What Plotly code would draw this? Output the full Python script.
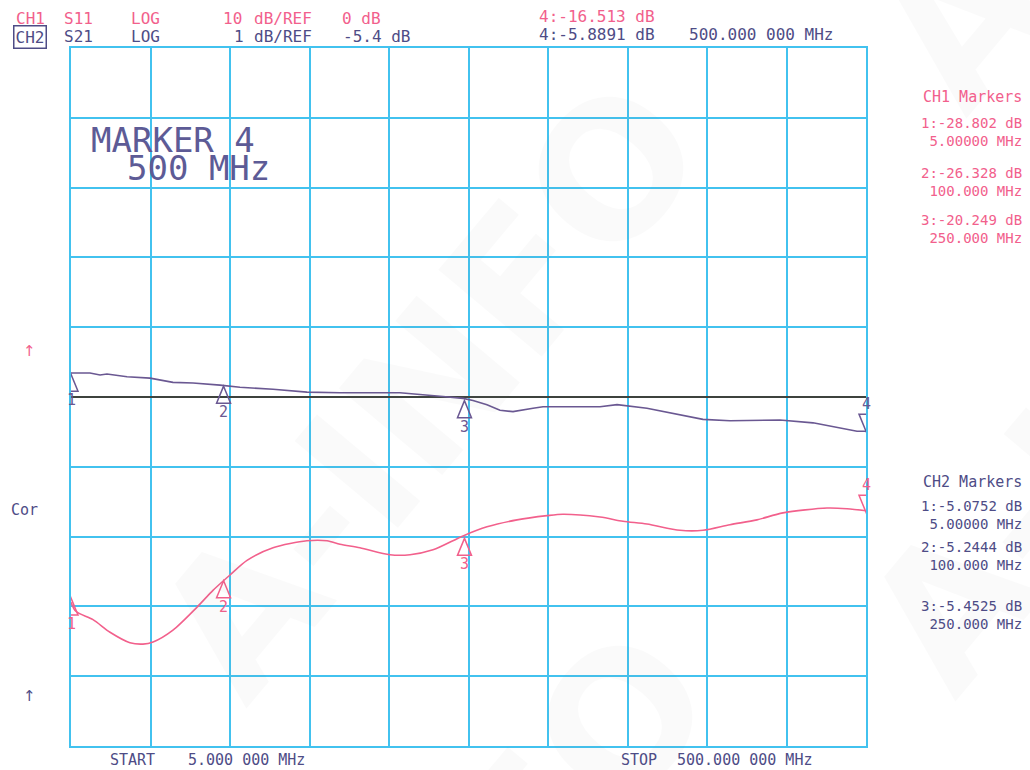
import plotly.graph_objects as go

# ---------------- data ----------------
# CH1  S11  (10 dB/div, ref 0 dB)
freq_s11 = [5.0, 8.0, 18.7, 29.3, 41.7, 49.8, 56.1, 68.5, 83.5, 93.4, 104.0, 114.6,
            130.8, 151.9, 164.4, 172.5, 184.9, 203.6, 216.1, 230.4, 249.1, 264.0,
            282.7, 301.4, 311.3, 334.4, 348.7, 363.6, 384.2, 398.5, 415.3, 432.1,
            448.3, 475.7, 488.2, 500.0]
s11_db = [-29.4, -30.7, -31.9, -33.7, -35.2, -35.4, -35.1, -33.4, -30.1, -27.7, -25.5,
          -23.4, -21.6, -20.6, -20.6, -21.1, -21.6, -22.6, -22.6, -21.9, -19.9, -18.6,
          -17.6, -17.0, -16.8, -17.2, -17.8, -18.2, -19.1, -19.1, -18.3, -17.6,
          -16.6, -15.9, -16.0, -16.3]

# CH2  S21  (1 dB/div, ref -5.4 dB)
freq_s21 = [5.0, 16.8, 23.1, 27.4, 39.9, 54.2, 68.5, 81.0, 97.8, 110.2, 130.8, 151.9,
            172.5, 197.4, 209.8, 234.8, 249.1, 255.3, 264.0, 272.1, 280.2, 292.7,
            298.9, 334.4, 345.0, 363.6, 379.8, 398.5, 415.3, 434.0, 446.4, 467.0,
            483.8, 494.4, 500.0]
s21_db = [-5.056, -5.056, -5.085, -5.07, -5.11, -5.13, -5.19, -5.20, -5.23, -5.26,
          -5.29, -5.33, -5.34, -5.34, -5.34, -5.39, -5.42, -5.45, -5.51, -5.59, -5.61,
          -5.56, -5.54, -5.54, -5.51, -5.56, -5.63, -5.72, -5.74, -5.74, -5.73,
          -5.77, -5.84, -5.89, -5.89]

ref_freq = [5.0, 500.0]
ref_s21 = [-5.4, -5.4]

marker_freqs = [5, 100, 250, 500]
marker_freq_text = ["5.00000 MHz", "100.000 MHz", "250.000 MHz", "500.000 000 MHz"]
marker_labels = ["1", "2", "3", "4"]
s11_marker_db = [-28.802, -26.328, -20.249, -16.513]
s21_marker_db = [-5.0752, -5.2444, -5.4525, -5.8891]

# ---------------- styles ----------------
PINK = "#f2608c"
PURPLE = "#4e4c86"
TRACE2 = "#6a5892"
GRID = "#42c2ef"
MONO = "DejaVu Sans Mono"

W, H = 1030, 770
L, R, T, B = 71, 164, 48, 24
PW, PH = W - L - R, H - T - B

fig = go.Figure()

fig.add_trace(go.Scatter(x=ref_freq, y=ref_s21, yaxis="y2", mode="lines",
                         line=dict(color="#3e433e", width=2.2), hoverinfo="skip"))
fig.add_trace(go.Scatter(x=freq_s21, y=s21_db, yaxis="y2", mode="lines",
                         line=dict(color=TRACE2, width=1.6), name="S21"))
fig.add_trace(go.Scatter(x=freq_s11, y=s11_db, yaxis="y", mode="lines",
                         line=dict(color=PINK, width=1.6, shape="spline", smoothing=0.8),
                         name="S11"))

shapes = []
annotations = []


def add_markers(values, yref, color):
    for i, (f, v) in enumerate(zip(marker_freqs, values)):
        if i < 3:
            path = "M0,0 L-7,-17 L7,-17 Z"
            shift = -26
        else:
            path = "M0,0 L-7,17 L7,17 Z"
            shift = 27
        shapes.append(dict(type="path", xref="x", yref=yref, xsizemode="pixel",
                           ysizemode="pixel", xanchor=f, yanchor=v, path=path,
                           line=dict(color=color, width=1.5), fillcolor="rgba(0,0,0,0)"))
        annotations.append(dict(x=f, y=v, xref="x", yref=yref, yshift=shift,
                                text=marker_labels[i], showarrow=False,
                                font=dict(family=MONO, size=15, color=color)))


add_markers(s11_marker_db, "y", PINK)
add_markers(s21_marker_db, "y2", TRACE2)


def txt(s, px, py, color, size=16, anchor="left", family=MONO, **kw):
    annotations.append(dict(text=s, xref="paper", yref="paper",
                            x=(px - L) / PW, y=(H - B - py) / PH,
                            xanchor=anchor, yanchor="middle", showarrow=False,
                            font=dict(family=family, size=size, color=color), **kw))


# watermarks
for cx, cy in [(430, 390), (1139, 383), (439, 939), (1150, -200)]:
    annotations.append(dict(text="<b>A-INFO</b>", xref="paper", yref="paper",
                            x=(cx - L) / PW, y=(H - B - cy) / PH, xanchor="center",
                            yanchor="middle", showarrow=False, textangle=-50,
                            font=dict(family="DejaVu Sans", size=185,
                                      color="rgba(120,120,120,0.04)")))

# header line 1
txt("CH1", 14, 19, PINK)
txt("S11", 62, 19, PINK)
txt("LOG", 129, 19, PINK)
txt("10", 221, 19, PINK)
txt("dB/REF", 252, 19, PINK)
txt("0 dB", 340, 19, PINK)
txt(f"4:{s11_marker_db[3]:.3f} dB", 537, 17, PINK)
# header line 2
txt("CH2", 13, 37, PURPLE, bordercolor=PURPLE, borderwidth=1.5, borderpad=1)
txt("S21", 62, 37, PURPLE)
txt("LOG", 129, 37, PURPLE)
txt("1", 232, 37, PURPLE)
txt("dB/REF", 252, 37, PURPLE)
txt("-5.4 dB", 341, 37, PURPLE)
txt(f"4:{s21_marker_db[3]:.4f} dB", 537, 34, PURPLE)
txt(marker_freq_text[3], 687, 34, PURPLE)

# right-hand marker tables
RX = 1024
txt("CH1 Markers", RX, 97, PINK, 15, "right")
for i, cy in enumerate([132, 182, 229]):
    txt(f"{i + 1}:{s11_marker_db[i]:.3f} dB<br>{marker_freq_text[i]}", RX, cy, PINK, 14,
        "right", align="right")
txt("CH2 Markers", RX, 482, PURPLE, 15, "right")
for i, cy in enumerate([515, 556, 615]):
    txt(f"{i + 1}:{s21_marker_db[i]:.4f} dB<br>{marker_freq_text[i]}", RX, cy, PURPLE, 14,
        "right", align="right")

# left indicators
txt("↑", 21, 351, PINK, 15, family="DejaVu Sans")
txt("Cor", 9, 510, PURPLE, 15)
txt("↑", 21, 696, PURPLE, 15, family="DejaVu Sans")

# big marker text
txt("MARKER 4", 89, 140, "#5d5b96", 34)
txt("500 MHz", 125, 168, "#5d5b96", 34)

# bottom
txt("START", 108, 760, PURPLE, 15)
txt("5.000 000 MHz", 186, 760, PURPLE, 15)
txt("STOP", 619, 760, PURPLE, 15)
txt("500.000 000 MHz", 675, 760, PURPLE, 15)

axis_common = dict(showgrid=True, gridcolor=GRID, gridwidth=2, showline=True,
                   mirror=True, linecolor=GRID, linewidth=2, zeroline=False,
                   showticklabels=False, ticks="", fixedrange=True)

fig.update_layout(
    width=W, height=H,
    margin=dict(l=L, r=R, t=T, b=B, pad=0),
    paper_bgcolor="white", plot_bgcolor="white",
    showlegend=False,
    xaxis=dict(range=[5, 500], tick0=5, dtick=49.5, **axis_common),
    yaxis=dict(range=[-50, 50], tick0=0, dtick=10, **axis_common),
    yaxis2=dict(range=[-10.4, -0.4], overlaying="y", side="right", showgrid=False,
                showticklabels=False, zeroline=False, showline=False, ticks="",
                fixedrange=True),
    shapes=shapes,
    annotations=annotations,
)

fig.write_html("out.html",
               config={"displayModeBar": False},
               post_script="document.body.style.margin='0px';"
                           "document.body.style.overflow='hidden';")
